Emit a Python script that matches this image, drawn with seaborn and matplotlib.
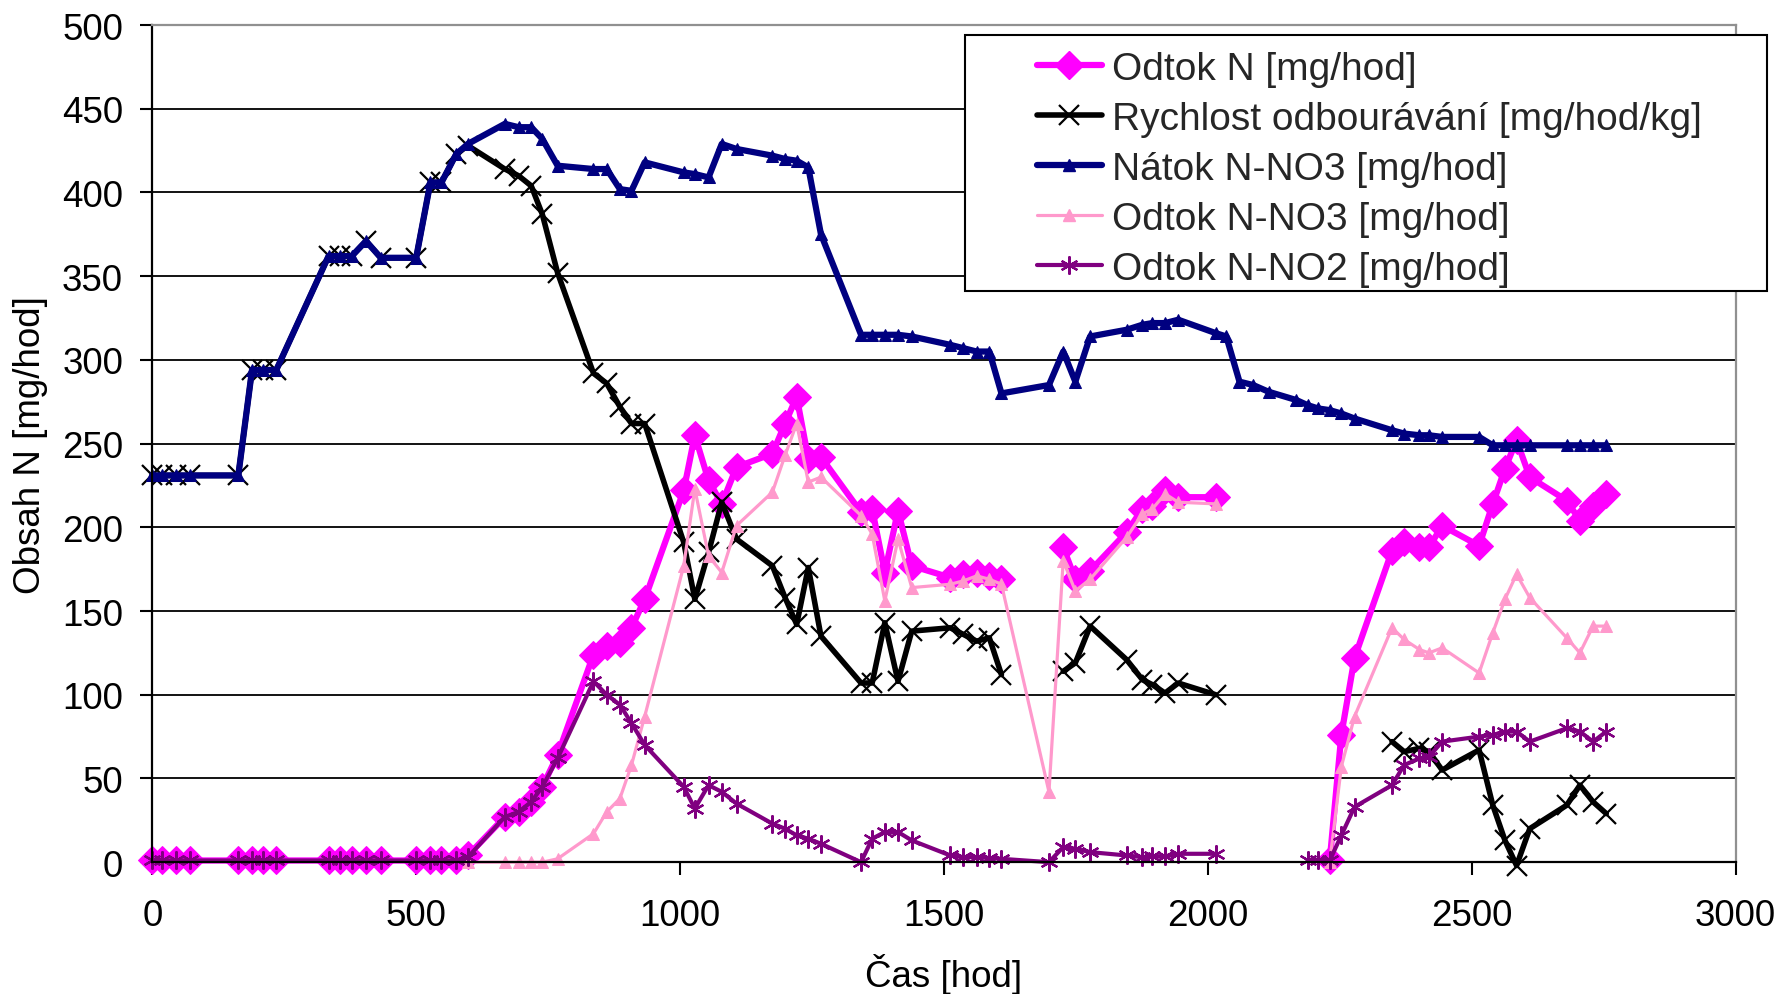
import numpy as np
import pandas as pd
import matplotlib
matplotlib.use('Agg')
import matplotlib.pyplot as plt
from matplotlib.lines import Line2D
from matplotlib.patches import Rectangle
import seaborn as sns

nan = np.nan

# sampling times [hod]
cas = [0, 18, 45, 72, 163, 189, 210, 235, 334, 356, 378, 405, 433, 500, 527, 548, 576, 598,
       668, 694, 718, 739, 768, 836, 861, 886, 908, 933, 1007, 1028, 1054, 1079, 1107, 1175,
       1199, 1221, 1243, 1267,
       1343, 1364, 1388, 1413, 1439, 1512, 1537, 1562, 1586, 1609,
       1699,
       1726, 1749, 1777, 1846, 1876, 1895, 1919, 1944, 2015,
       2035, 2060, 2086, 2115, 2168,
       2189, 2209, 2231,
       2253, 2278, 2349, 2372, 2401, 2419, 2444, 2514, 2540, 2563, 2585, 2610, 2680, 2705,
       2730, 2755]

odtok_n = ([1] * 17 + [4] +
           [27, 30, 36, 45, 64, 124, 129, 131, 140, 157, 222, 255, 228, 214, 236, 244, 262, 278,
            241, 242] +
           [209, 211, 173, 210, 177, 170, 172, 173, 171, 169] +
           [nan] +
           [188, 169, 174, 197, 211, 213, 222, 218, 218] +
           [nan] * 5 +
           [nan, nan, 1] +
           [76, 122, 186, 191, 188, 188, 201, 189, 214, 235, 252, 230, 216, 204, 213, 220])

rychlost = ([231, 231, 231, 231, 231, 294, 294, 294, 362, 362, 362, 371, 361, 361, 406, 406,
             423, 428] +
            [414, 410, 404, 387, 352, 292, 286, 272, 262, 262, 191, 157, 185, 215, 193, 177,
             158, 142, 176, 135] +
            [107, 107, 143, 108, 138, 140, 136, 132, 134, 112] +
            [nan] +
            [114, 119, 141, 121, 109, 106, 101, 107, 100] +
            [nan] * 5 +
            [nan, nan, nan] +
            [nan, nan, 72, 66, 68, 66, 55, 67, 34, 13, -2, 20, 34, 46, 36, 29])

natok_no3 = ([231, 231, 231, 231, 231, 294, 294, 294, 362, 362, 362, 371, 361, 361, 406, 406,
              423, 429] +
             [441, 439, 439, 432, 416, 414, 414, 402, 401, 418, 412, 411, 409, 429, 426, 422,
              420, 419, 415, 375] +
             [315, 315, 315, 315, 314, 309, 307, 305, 305, 280] +
             [285] +
             [305, 287, 314, 318, 321, 322, 322, 324, 316] +
             [314, 287, 285, 281, 276] +
             [273, 271, 270] +
             [268, 265, 258, 256, 255, 255, 254, 254, 249, 249, 249, 249, 249, 249, 249, 249])

odtok_no3 = ([nan] * 17 + [0] +
             [0, 0, 0, 0, 2, 17, 30, 38, 58, 87, 177, 223, 183, 173, 201, 221, 243, 262, 227,
              230] +
             [207, 196, 156, 193, 164, 166, 168, 171, 169, 166] +
             [42] +
             [180, 162, 169, 194, 208, 211, 220, 215, 214] +
             [nan] * 5 +
             [nan, nan, 0] +
             [57, 87, 140, 133, 127, 125, 128, 113, 137, 157, 172, 158, 134, 125, 141, 141])

odtok_no2 = ([1] * 17 + [3] +
             [27, 30, 36, 45, 62, 108, 100, 94, 83, 70, 45, 32, 46, 42, 35, 23, 20, 16, 14, 11] +
             [0, 14, 18, 18, 13, 4, 3, 3, 2.5, 2] +
             [0] +
             [9, 8, 6, 4, 3, 3.5, 3.5, 5, 5] +
             [nan] * 5 +
             [1, 1, 1] +
             [16, 33, 46, 58, 62, 63, 72, 75, 76, 78, 78, 72, 80, 78, 72, 78])

series = [
    ('Odtok N [mg/hod]', odtok_n,
     dict(color='#FF00FF', lw=4.5, marker='D', ms=14, mec='#FF00FF', mfc='#FF00FF')),
    ('Rychlost odbourávání [mg/hod/kg]', rychlost,
     dict(color='black', lw=4.0, marker='x', ms=14, mew=1.6, mec='black')),
    ('Nátok N-NO3 [mg/hod]', natok_no3,
     dict(color='#000080', lw=4.5, marker='^', ms=9, mec='#000080', mfc='#000080')),
    ('Odtok N-NO3 [mg/hod]', odtok_no3,
     dict(color='#FF99CC', lw=2.3, marker='^', ms=9, mec='#FF99CC', mfc='#FF99CC')),
    ('Odtok N-NO2 [mg/hod]', odtok_no2,
     dict(color='#800080', lw=3.0, marker=(6, 2, 0), ms=13, mew=1.6, mec='#800080')),
]

sns.set_theme(style='white')
plt.rcParams['font.family'] = ['Liberation Sans', 'DejaVu Sans']

fig = plt.figure(figsize=(17.81, 9.95), dpi=100)
ax = fig.add_axes([0.0855, 0.1325, 0.889, 0.8413])

handles = []
for i, (name, vals, style) in enumerate(series):
    df = pd.DataFrame({'t': cas, 'v': vals})
    df['seg'] = df['v'].isna().cumsum()
    df = df.dropna()
    sns.lineplot(data=df, x='t', y='v', units='seg', estimator=None, sort=False,
                 legend=False, ax=ax, clip_on=False, zorder=2 + i * 0.1, **style)
    handles.append(Line2D([], [], label=name, **style))

ax.set_xlim(0, 3000)
ax.set_ylim(0, 500)
ax.set_xticks(range(0, 3001, 500))
ax.set_yticks(range(0, 501, 50))
ax.yaxis.grid(True, color='black', lw=1.3)
ax.xaxis.grid(False)
ax.set_axisbelow(True)

for side in ['left', 'bottom']:
    ax.spines[side].set_color('black')
    ax.spines[side].set_linewidth(1.6)
for side in ['top', 'right']:
    ax.spines[side].set_color('#909090')
    ax.spines[side].set_linewidth(1.6)

ax.tick_params(axis='both', direction='out', length=9, width=1.5, color='black',
               labelsize=26.5, labelcolor='black')
ax.tick_params(axis='x', pad=17, bottom=True)
ax.tick_params(axis='y', pad=12, left=True)

ax.set_xlabel('Čas [hod]', fontsize=26.5, color='black', labelpad=14)
ax.set_ylabel('Obsah N [mg/hod]', fontsize=26.5, color='black', labelpad=10)

# legend box (wider than the entries, like the original)
ax.add_patch(Rectangle((0.513, 0.682), 0.5066, 0.306, transform=ax.transAxes,
                       facecolor='white', edgecolor='black', lw=1.5, clip_on=False,
                       zorder=4))
leg = ax.legend(handles=handles, loc='upper left', bbox_to_anchor=(0.559, 0.969),
                frameon=False, fontsize=28, handlelength=1.65, handletextpad=0.28,
                labelspacing=0.36, borderpad=0, borderaxespad=0)
leg.set_zorder(5)

fig.savefig('out.png', dpi=100)
